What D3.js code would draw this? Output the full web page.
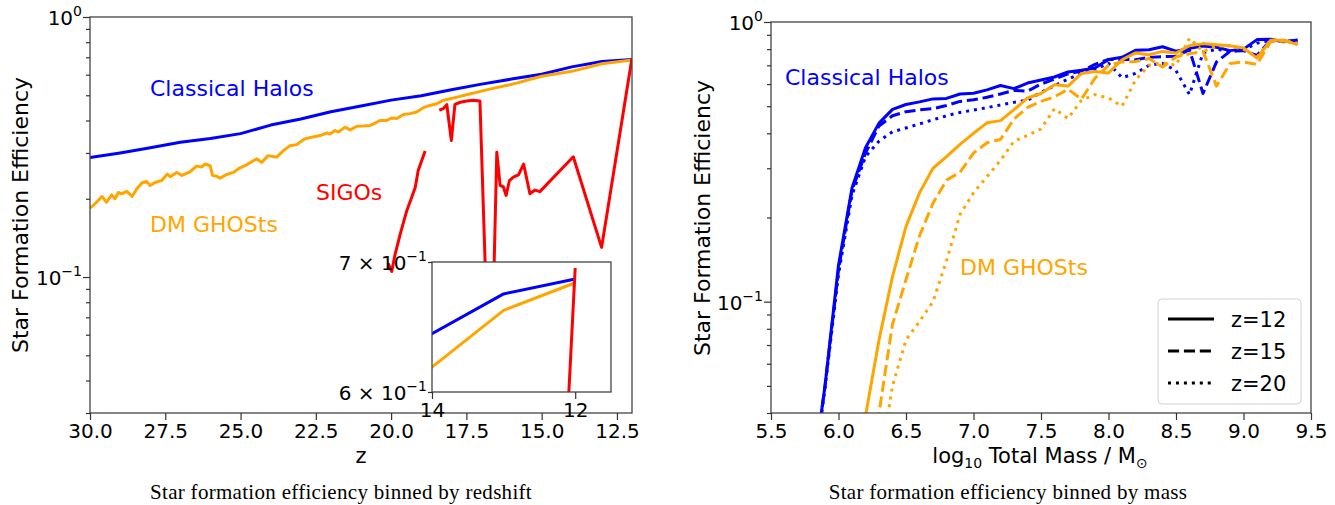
<!DOCTYPE html>
<html>
<head>
<meta charset="utf-8">
<script src="https://cdnjs.cloudflare.com/ajax/libs/d3/7.8.5/d3.min.js"></script>
<style>
  body { margin: 0; background: #fff; }
  svg { display: block; }
  text { font-family: "DejaVu Sans", sans-serif; }
</style>
</head>
<body>
<div id="chart"></div>
<script>
// ---- left panel data: efficiency vs redshift ----
const zHalo = [30, 29, 28, 27, 26, 25, 24, 23, 22, 21, 20, 19, 18, 17, 16, 15, 14, 13, 12];
const effHalo = [0.288, 0.300, 0.314, 0.330, 0.341, 0.356, 0.384, 0.405, 0.432, 0.455, 0.479, 0.498, 0.525, 0.552, 0.577, 0.602, 0.643, 0.674, 0.686];

const zGhost = [30.0, 29.8, 29.6, 29.45, 29.28, 29.17, 29.06, 28.95, 28.78, 28.6, 28.45, 28.28, 28.12, 28.0, 27.84, 27.62,
  27.43, 27.34, 27.12, 26.95, 26.68, 26.46, 26.29, 26.18, 26.01, 25.93, 25.79, 25.68, 25.46, 25.24, 25.02, 24.8,
  24.62, 24.46, 24.3, 24.08, 23.8, 23.58, 23.36, 23.13, 23.03, 22.86, 22.64, 22.36, 22.14, 22.03, 21.86, 21.75,
  21.53, 21.36, 21.14, 20.92, 20.7, 20.53, 20.37, 20.15, 19.98, 19.81, 19.59, 19.37, 19.15, 18.93, 18.71, 18.49,
  18.27, 18.04, 17.8, 17.5, 17.2, 16.9, 16.5, 16.1, 15.8, 15.5, 15.0, 14.0, 13.0, 12.0];
const effGhost = [0.184, 0.193, 0.204, 0.194, 0.207, 0.200, 0.2115, 0.209, 0.2135, 0.204, 0.218, 0.230, 0.233, 0.225, 0.231, 0.235,
  0.249, 0.243, 0.2525, 0.246, 0.254, 0.267, 0.265, 0.272, 0.268, 0.246, 0.244, 0.240, 0.248, 0.2525, 0.263, 0.270,
  0.278, 0.285, 0.276, 0.293, 0.289, 0.306, 0.320, 0.323, 0.330, 0.340, 0.345, 0.350, 0.358, 0.355, 0.366, 0.361,
  0.377, 0.368, 0.380, 0.381, 0.383, 0.391, 0.400, 0.400, 0.409, 0.407, 0.422, 0.425, 0.431, 0.448, 0.457, 0.464,
  0.478, 0.485, 0.492, 0.502, 0.512, 0.522, 0.535, 0.548, 0.558, 0.571, 0.592, 0.618, 0.661, 0.683];

// null = no SIGO in that redshift bin (gap in the line)
const zSigo = [20.1, 19.98, 19.87, 19.7, 19.48, 19.3, 19.2, 19.1, 18.87, 18.6, 18.4, 18.27, 18.15, 18.0, 17.88, 17.7,
  17.49, 17.27, 17.05, 16.78, 16.65, 16.49, 16.38, 16.27, 16.18, 16.07, 15.94, 15.77, 15.6, 15.39, 15.22, 15.06,
  13.95, 13.01, 12.0];
const effSigo = [0.113, 0.105, 0.122, 0.146, 0.180, 0.205, 0.221, 0.257, 0.305, null, 0.438, 0.444, 0.460, 0.335, 0.461, 0.470,
  0.475, 0.478, 0.475, 0.05, 0.05, 0.302, 0.225, 0.222, 0.206, 0.235, 0.242, 0.247, 0.272, 0.209, 0.216, 0.213,
  0.290, 0.130, 0.695];

// ---- right panel data: efficiency vs log10 mass ----
const massBins = [5.8, 5.9, 6.0, 6.1, 6.2, 6.3, 6.4, 6.5, 6.6, 6.7, 6.8, 6.9, 7.0, 7.1, 7.2, 7.3, 7.4, 7.5, 7.6,
  7.7, 7.8, 7.9, 8.0, 8.1, 8.2, 8.3, 8.4, 8.5, 8.6, 8.7, 8.8, 8.9, 9.0, 9.1, 9.2, 9.3, 9.4];
const haloZ12 = [0.022, 0.05, 0.135, 0.255, 0.355, 0.435, 0.487, 0.507, 0.518, 0.531, 0.533, 0.553, 0.556, 0.572, 0.593, 0.578, 0.605, 0.62, 0.636,
  0.663, 0.672, 0.685, 0.735, 0.748, 0.792, 0.796, 0.816, 0.787, 0.805, 0.82, 0.812, 0.79, 0.80, 0.865, 0.867, 0.85, 0.863];
const haloZ15 = [0.022, 0.05, 0.13, 0.25, 0.34, 0.425, 0.462, 0.478, 0.485, 0.49, 0.503, 0.52, 0.527, 0.538, 0.553, 0.57, 0.566, 0.60, 0.625,
  0.652, 0.668, 0.705, 0.735, 0.735, 0.733, 0.747, 0.752, 0.755, 0.795, 0.555, 0.72, 0.785, 0.79, 0.76, 0.86, 0.855, 0.855];
const haloZ20 = [0.021, 0.049, 0.125, 0.24, 0.33, 0.375, 0.405, 0.418, 0.432, 0.447, 0.462, 0.475, 0.484, 0.494, 0.505, 0.516, 0.525, 0.56, 0.592,
  0.625, 0.655, 0.675, 0.712, 0.632, 0.655, 0.70, 0.712, 0.67, 0.55, 0.775, 0.80, 0.785, 0.795, 0.84, 0.86, 0.85, 0.86];
const ghostZ12 = [null, null, null, 0.02, 0.039, 0.073, 0.123, 0.186, 0.245, 0.30, 0.33, 0.365, 0.40, 0.436, 0.444, 0.486, 0.535, 0.555, 0.597,
  0.59, 0.655, 0.665, 0.657, 0.733, 0.775, 0.764, 0.785, 0.775, 0.823, 0.837, 0.83, 0.823, 0.807, 0.743, 0.86, 0.86, 0.83];
const ghostZ15 = [null, null, null, null, 0.022, 0.04, 0.083, 0.12, 0.172, 0.225, 0.272, 0.29, 0.34, 0.37, 0.38, 0.45, 0.495, 0.52, 0.54,
  0.575, 0.53, 0.63, 0.70, 0.72, 0.722, 0.74, 0.69, 0.75, 0.77, 0.785, 0.59, 0.71, 0.72, 0.705, 0.85, 0.855, 0.84];
const ghostZ20 = [null, null, null, null, null, 0.025, 0.05, 0.073, 0.085, 0.10, 0.14, 0.205, 0.245, 0.28, 0.32, 0.375, 0.393, 0.415, 0.49,
  0.452, 0.525, 0.55, 0.535, 0.50, 0.62, 0.70, 0.715, 0.70, 0.875, 0.785, 0.82, 0.82, 0.80, 0.75, 0.86, 0.86, 0.83];

// ticks
const zTicks = [30, 27.5, 25, 22.5, 20, 17.5, 15, 12.5];
const massTicks = [5.5, 6.0, 6.5, 7.0, 7.5, 8.0, 8.5, 9.0, 9.5];
const insetZTicks = [14, 12];
const legendLabels = ['z=12', 'z=15', 'z=20'];

const BLUE = '#0000ff', ORANGE = '#ffa500', RED = '#ff0000';
const LW = 3;

const svg = d3.select('#chart').append('svg')
    .attr('width', 1335)
    .attr('height', 505);

// scales
const xL = d3.scaleLinear().domain([30, 12]).range([90, 632]);
const yL = d3.scaleLog().domain([0.03, 1]).range([413, 17]);
const xR = d3.scaleLinear().domain([5.5, 9.5]).range([771, 1311]);
const yR = d3.scaleLog().domain([0.04, 1]).range([413, 22]);
const xI = d3.scaleLinear().domain([14, 11.5]).range([432, 611]);
const yI = d3.scaleLog().domain([0.6, 0.7]).range([392, 262]);

const defs = svg.append('defs');
function clip(id, x, y) {
    defs.append('clipPath').attr('id', id).append('rect')
        .attr('x', x.range()[0]).attr('y', y.range()[1])
        .attr('width', x.range()[1] - x.range()[0])
        .attr('height', y.range()[0] - y.range()[1]);
}
clip('clipL', xL, yL);
clip('clipR', xR, yR);
clip('clipI', xI, yI);

function pairs(xs, ys) {
    return xs.map((x, i) => [x, ys[i]]);
}

function drawLine(g, x, y, xs, ys, color, dash) {
    const line = d3.line()
        .defined(d => d[1] != null)
        .x(d => x(d[0]))
        .y(d => y(d[1]));
    g.append('path')
        .datum(pairs(xs, ys))
        .attr('d', line)
        .attr('fill', 'none')
        .attr('stroke', color)
        .attr('stroke-width', LW)
        .attr('stroke-linejoin', 'round')
        .attr('stroke-dasharray', dash || null);
}

// log y axis with minor ticks and 10^n labels on decades
function logYAxis(y, x0, minorVals) {
    const majors = [0.1, 1];
    const g = svg.append('g').attr('transform', `translate(${x0},0)`);
    g.call(d3.axisLeft(y).tickValues(majors.concat(minorVals)).tickFormat('').tickSizeOuter(0));
    g.select('.domain').remove();
    g.selectAll('.tick line')
        .attr('stroke', '#333')
        .attr('stroke-width', 1.2)
        .attr('x2', d => majors.includes(d) ? -7 : -4);
    majors.forEach(m => {
        const t = svg.append('text')
            .attr('x', x0 - 8)
            .attr('y', y(m) + 8)
            .attr('text-anchor', 'end')
            .style('font-size', '20px');
        t.append('tspan').text('10');
        t.append('tspan').attr('dy', -9).style('font-size', '14px').text(m === 1 ? '0' : '\u22121');
    });
}

function xAxis(x, y0, ticks, fmt) {
    const g = svg.append('g').attr('transform', `translate(0,${y0})`);
    g.call(d3.axisBottom(x).tickValues(ticks).tickFormat(fmt).tickSize(7).tickPadding(4).tickSizeOuter(0));
    g.select('.domain').remove();
    g.selectAll('.tick line').attr('stroke', '#333').attr('stroke-width', 1.2);
    g.selectAll('.tick text').style('font-size', '20px').attr('fill', '#000')
        .style('font-family', '"DejaVu Sans", sans-serif');
}

function frame(x, y) {
    svg.append('rect')
        .attr('x', x.range()[0]).attr('y', y.range()[1])
        .attr('width', x.range()[1] - x.range()[0])
        .attr('height', y.range()[0] - y.range()[1])
        .attr('fill', 'none')
        .attr('stroke', '#444')
        .attr('stroke-width', 1.3);
}

// ================= LEFT PANEL =================
const gL = svg.append('g').attr('clip-path', 'url(#clipL)');
drawLine(gL, xL, yL, zHalo, effHalo, BLUE);
drawLine(gL, xL, yL, zGhost, effGhost, ORANGE);
drawLine(gL, xL, yL, zSigo, effSigo, RED);
frame(xL, yL);
xAxis(xL, 413, zTicks, d3.format('.1f'));
logYAxis(yL, 90, [0.03, 0.04, 0.05, 0.06, 0.07, 0.08, 0.09, 0.2, 0.3, 0.4, 0.5, 0.6, 0.7, 0.8, 0.9]);

svg.append('text').attr('x', 150).attr('y', 96).attr('fill', BLUE).style('font-size', '22px').text('Classical Halos');
svg.append('text').attr('x', 150).attr('y', 232).attr('fill', ORANGE).style('font-size', '22px').text('DM GHOSts');
svg.append('text').attr('x', 316).attr('y', 200).attr('fill', RED).style('font-size', '22px').text('SIGOs');

svg.append('text')
    .attr('transform', 'translate(28,215) rotate(-90)')
    .attr('text-anchor', 'middle')
    .style('font-size', '22px')
    .text('Star Formation Efficiency');
svg.append('text')
    .attr('x', 361).attr('y', 463)
    .attr('text-anchor', 'middle')
    .style('font-size', '21px')
    .text('z');

// inset
svg.append('rect')
    .attr('x', 432).attr('y', 262).attr('width', 179).attr('height', 130)
    .attr('fill', '#fff');
const gI = svg.append('g').attr('clip-path', 'url(#clipI)');
drawLine(gI, xI, yI, zHalo, effHalo, BLUE);
drawLine(gI, xI, yI, zGhost, effGhost, ORANGE);
drawLine(gI, xI, yI, zSigo, effSigo, RED);
frame(xI, yI);
xAxis(xI, 392, insetZTicks, d3.format('d'));
const gIy = svg.append('g').attr('transform', 'translate(432,0)');
gIy.call(d3.axisLeft(yI).tickValues([0.6, 0.7]).tickFormat('').tickSizeOuter(0).tickSize(4));
gIy.select('.domain').remove();
gIy.selectAll('.tick line').attr('stroke', '#333').attr('stroke-width', 1.2);
[[0.7, '7'], [0.6, '6']].forEach(([v, m]) => {
    const t = svg.append('text')
        .attr('x', 427).attr('y', yI(v) + 8)
        .attr('text-anchor', 'end')
        .style('font-size', '20px');
    t.append('tspan').text(m + ' \u00d7 10');
    t.append('tspan').attr('dy', -9).style('font-size', '14px').text('\u22121');
});

// ================= RIGHT PANEL =================
const gR = svg.append('g').attr('clip-path', 'url(#clipR)');
const dashed = `${3.7 * LW},${1.6 * LW}`;
const dotted = `${1 * LW},${1.65 * LW}`;
drawLine(gR, xR, yR, massBins, haloZ12, BLUE);
drawLine(gR, xR, yR, massBins, haloZ15, BLUE, dashed);
drawLine(gR, xR, yR, massBins, haloZ20, BLUE, dotted);
drawLine(gR, xR, yR, massBins, ghostZ12, ORANGE);
drawLine(gR, xR, yR, massBins, ghostZ15, ORANGE, dashed);
drawLine(gR, xR, yR, massBins, ghostZ20, ORANGE, dotted);
frame(xR, yR);
xAxis(xR, 413, massTicks, d3.format('.1f'));
logYAxis(yR, 771, [0.04, 0.05, 0.06, 0.07, 0.08, 0.09, 0.2, 0.3, 0.4, 0.5, 0.6, 0.7, 0.8, 0.9]);

svg.append('text').attr('x', 785).attr('y', 85).attr('fill', BLUE).style('font-size', '22px').text('Classical Halos');
svg.append('text').attr('x', 960).attr('y', 275).attr('fill', ORANGE).style('font-size', '22px').text('DM GHOSts');

svg.append('text')
    .attr('transform', 'translate(710,218) rotate(-90)')
    .attr('text-anchor', 'middle')
    .style('font-size', '22px')
    .text('Star Formation Efficiency');
const xt = svg.append('text')
    .attr('x', 1040).attr('y', 463)
    .attr('text-anchor', 'middle')
    .style('font-size', '21px');
xt.append('tspan').text('log');
xt.append('tspan').attr('dy', 5).style('font-size', '14px').text('10');
xt.append('tspan').attr('dy', -5).text(' Total Mass / M');
xt.append('tspan').attr('dy', 5).style('font-size', '14px').text('\u2299');

// legend
const leg = svg.append('g').attr('transform', 'translate(1158,299)');
leg.append('rect')
    .attr('width', 143).attr('height', 105).attr('rx', 4)
    .attr('fill', '#fff').attr('fill-opacity', 0.8)
    .attr('stroke', '#d0d0d0').attr('stroke-width', 1);
[null, dashed, dotted].forEach((dash, i) => {
    leg.append('line')
        .attr('x1', 10).attr('x2', 56)
        .attr('y1', 20 + i * 32).attr('y2', 20 + i * 32)
        .attr('stroke', '#000').attr('stroke-width', LW)
        .attr('stroke-dasharray', dash);
    leg.append('text')
        .attr('x', 73).attr('y', 28 + i * 32)
        .style('font-size', '21px')
        .text(legendLabels[i]);
});

// captions
svg.append('text')
    .attr('x', 341).attr('y', 499)
    .attr('text-anchor', 'middle')
    .style('font-family', '"Liberation Serif", serif')
    .style('font-size', '21px')
    .style('letter-spacing', '0.3px')
    .text('Star formation efficiency binned by redshift');
svg.append('text')
    .attr('x', 1008).attr('y', 499)
    .attr('text-anchor', 'middle')
    .style('font-family', '"Liberation Serif", serif')
    .style('font-size', '21px')
    .style('letter-spacing', '0.3px')
    .text('Star formation efficiency binned by mass');
</script>
</body>
</html>
